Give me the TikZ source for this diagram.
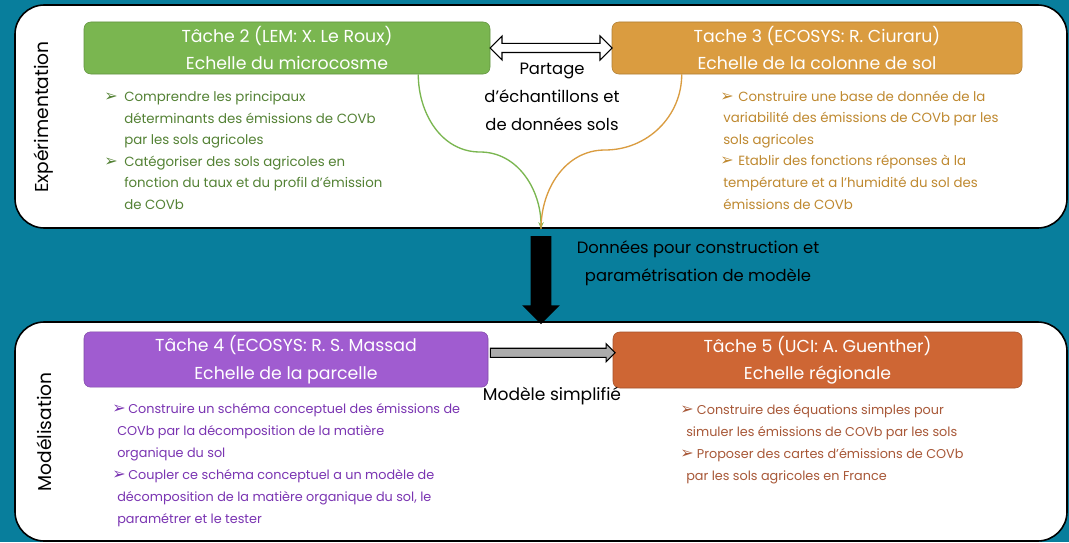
\documentclass[tikz,border=0pt]{standalone}
\usepackage{fontspec}
\setmainfont{Poppins}
\newfontfamily\symfont{DejaVu Sans}
\usetikzlibrary{positioning,shapes.arrows,arrows.meta,calc}

\definecolor{bgteal}{RGB}{8,126,156}
\definecolor{boxgreen}{RGB}{122,182,80}
\definecolor{boxorange}{RGB}{218,156,64}
\definecolor{boxpurple}{RGB}{160,92,208}
\definecolor{boxrust}{RGB}{206,102,52}
\definecolor{txtgreen}{RGB}{84,130,53}
\definecolor{txtorange}{RGB}{191,137,48}
\definecolor{txtpurple}{RGB}{122,52,178}
\definecolor{txtrust}{RGB}{168,88,56}

\newcommand{\bul}[1]{\makebox[#1][l]{\symfont\fontsize{12}{12}\selectfont ➢}}

\tikzset{
  panel/.style={draw=black, line width=1.2pt, fill=white, rounded corners=22pt, inner sep=0pt},
  taskbox/.style={rounded corners=5pt, draw=#1!80!black, fill=#1, text=white, align=center,
    font=\fontsize{13}{20.5}\selectfont, inner sep=0pt, minimum height=39pt},
  bullets/.style={align=left, anchor=north west, inner sep=0pt, font=\fontsize{10}{16.2}\selectfont},
  lowbullets/.style={bullets, font=\fontsize{9.6}{16.5}\selectfont},
  side/.style={rotate=90, font=\fontsize{14}{16}\selectfont},
  note/.style={align=center, font=\fontsize{12.3}{20.8}\selectfont, inner sep=0pt},
}

\begin{document}
\begin{tikzpicture}[x=0.75pt,y=-0.75pt]
\useasboundingbox (0,0) rectangle (1069,542);
\fill[bgteal] (0,0) rectangle (1069,542);

% the two panels
\node[panel, minimum width=789pt, minimum height=167.25pt] (expe) at (541,116.5) {};
\node[panel, minimum width=789pt, minimum height=164.25pt] (model) at (541,431.5) {};
\node[side] (lexpe) at (44,117) {Expérimentation};
\node[side] (lmodel) at (44,432) {Modélisation};

% tasks
\node[taskbox=boxgreen, minimum width=304.5pt] (t2) at (287,48) {Tâche 2 (LEM: X. Le Roux)\\Echelle du microcosme};
\node[taskbox=boxorange, minimum width=307.5pt] (t3) at (817,48) {Tache 3 (ECOSYS: R. Ciuraru)\\Echelle de la colonne de sol};
\node[taskbox=boxpurple, minimum width=303pt, minimum height=41.5pt] (t4) at (286,359.5) {Tâche 4 (ECOSYS: R. S. Massad\\Echelle de la parcelle};
\node[taskbox=boxrust, minimum width=306.75pt, minimum height=42pt] (t5) at (817.5,360) {Tâche 5 (UCI: A. Guenther)\\Echelle régionale};

% arrows between tasks
\node[double arrow, draw=black, fill=white, line width=0.8pt, minimum height=91.5pt,
  inner xsep=0pt, inner ysep=3pt, double arrow head extend=5.6pt] (share) at ($(t2.east)!0.5!(t3.west)$) {};
\node[single arrow, draw=black, fill=gray!65, line width=0.8pt, minimum height=93.5pt,
  inner xsep=0pt, inner ysep=3pt, single arrow head extend=3.4pt] (simp) at ($($(t4.east)!0.5!(t5.west)$)+(0,-7)$) {};
\node[single arrow, fill=black, rotate=-90, minimum height=66pt,
  inner xsep=0pt, inner ysep=7.5pt, single arrow head extend=6.4pt] (down) at ($(expe.south)!0.5!(model.north)$) {};

% curves into the black arrow
\draw[boxgreen, line width=1pt, -{Stealth[length=5pt,width=4pt]}] ($(t2.south east)+(-72,0)$)
  to[out=-90,in=180] (480,152) to[out=0,in=90] (expe.south);
\draw[boxorange, line width=1pt] ($(t3.south west)+(70,0)$)
  to[out=-90,in=0] (605,150) to[out=180,in=90] (expe.south);

\node[note] (lshare) at (552,97) {Partage\\d’échantillons et\\de données sols};
\node[note] (lflow) at (698,263) {Données pour construction et\\paramétrisation de modèle};
\node[note, font=\fontsize{12.8}{16}\selectfont] (lsimp) at (552,396) {Modèle simplifié};

% bullet lists
\node[bullets, text=txtgreen] (b2) at (104,91) {\bul{15pt}Comprendre les principaux\\
  \hspace*{15pt}déterminants des émissions de COVb\\
  \hspace*{15pt}par les sols agricoles\\
  \bul{15pt}Catégoriser des sols agricoles en\\
  \hspace*{15pt}fonction du taux et du profil d’émission\\
  \hspace*{15pt}de COVb};
\node[bullets, text=txtorange] (b3) at (720,90.5) {\bul{13.5pt}Construire une base de donnée de la\\
  \hspace*{2.25pt}variabilité des émissions de COVb par les\\
  \hspace*{2.25pt}sols agricoles\\
  \bul{13.5pt}Etablir des fonctions réponses à la\\
  \hspace*{2.25pt}température et a l’humidité du sol des\\
  \hspace*{2.25pt}émissions de COVb};
\node[lowbullets, text=txtpurple] (b4) at (112,403.5) {\bul{12pt}Construire un schéma conceptuel des émissions de\\
  \hspace*{3.75pt}COVb par la décomposition de la matière\\
  \hspace*{3.75pt}organique du sol\\
  \bul{12pt}Coupler ce schéma conceptuel a un modèle de\\
  \hspace*{3.75pt}décomposition de la matière organique du sol, le\\
  \hspace*{3.75pt}paramétrer et le tester};
\node[lowbullets, text=txtrust] (b5) at (680,404.5) {\bul{12.5pt}Construire des équations simples pour\\
  \hspace*{4.5pt}simuler les émissions de COVb par les sols\\
  \bul{12.5pt}Proposer des cartes d’émissions de COVb\\
  \hspace*{4.5pt}par les sols agricoles en France};
\end{tikzpicture}
\end{document}
